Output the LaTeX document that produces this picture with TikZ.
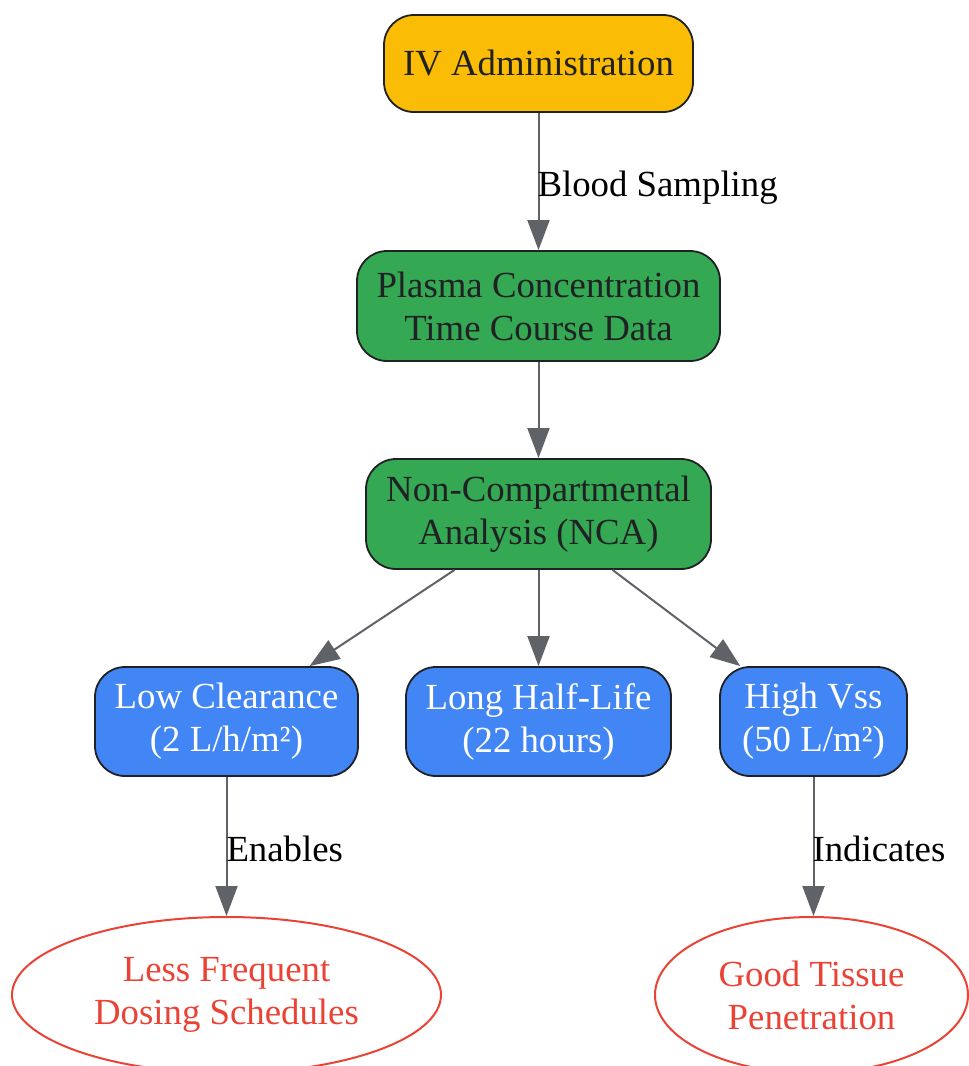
\documentclass[tikz,border=0pt]{standalone}
\usepackage{fontspec}
\setmainfont{Liberation Serif}
\usetikzlibrary{shapes.geometric,arrows.meta}
\definecolor{ivfill}{HTML}{FBBC05}
\definecolor{gfill}{HTML}{34A853}
\definecolor{bfill}{HTML}{4285F4}
\definecolor{rline}{HTML}{EA4335}
\definecolor{edgec}{HTML}{5F6368}
\definecolor{dark}{HTML}{202124}
\tikzset{
  box/.style={draw=dark, line width=1.8pt, rectangle, rounded corners=30pt, align=center, inner sep=0pt,
    font=\fontsize{36.8}{43}\selectfont},
  goal/.style={draw=rline, line width=2pt, ellipse, align=center, inner sep=0pt, text=rline,
    font=\fontsize{36.8}{43}\selectfont},
  conn/.style={draw=edgec, line width=2pt, -{Triangle[width=22pt,length=30pt]}},
  lab/.style={font=\fontsize{36.8}{43}\selectfont, text=black, inner sep=0pt, anchor=west}
}
\begin{document}
\begin{tikzpicture}[x=1pt,y=-1pt]
\useasboundingbox (0,0) rectangle (969,1066);
\clip (0,0) rectangle (969,1066);
\node[box, fill=ivfill, text=dark, minimum width=309pt, minimum height=97pt] (iv) at (538.5,63.5) {IV Administration};
\node[box, fill=gfill, text=dark, minimum width=363pt, minimum height=110pt] (plasma) at (538.5,306) {Plasma Concentration\\Time Course Data};
\node[box, fill=gfill, text=dark, minimum width=345pt, minimum height=110pt] (nca) at (538.5,514) {Non-Compartmental\\Analysis (NCA)};
\node[box, fill=bfill, text=white, minimum width=263pt, minimum height=109pt] (low) at (226.5,721.5) {Low Clearance\\(2 L/h/m²)};
\node[box, fill=bfill, text=white, minimum width=265pt, minimum height=109pt] (half) at (538.5,721.5) {Long Half-Life\\(22 hours)};
\node[box, fill=bfill, text=white, minimum width=187pt, minimum height=109pt] (vss) at (813.5,721.5) {High Vss\\(50 L/m²)};
\node[goal, minimum width=429pt, minimum height=156pt] (less) at (226.5,995) {Less Frequent\\Dosing Schedules};
\node[goal, minimum width=313pt, minimum height=156pt] (tissue) at (811.5,995) {Good Tissue\\Penetration};
\draw[conn] (iv) -- (plasma) node[lab, midway, yshift=-6pt, xshift=-2pt] {Blood Sampling};
\draw[conn] (plasma) -- (nca);
\draw[conn] (nca) -- (low);
\draw[conn] (nca) -- (half);
\draw[conn] (nca) -- (vss);
\draw[conn] (low) -- (low |- less.north) node[lab, midway, yshift=-2pt, xshift=-1pt] {Enables};
\draw[conn] (vss) -- (vss |- tissue.north) node[lab, midway, yshift=-2pt, xshift=-2pt] {Indicates};
\end{tikzpicture}
\end{document}
